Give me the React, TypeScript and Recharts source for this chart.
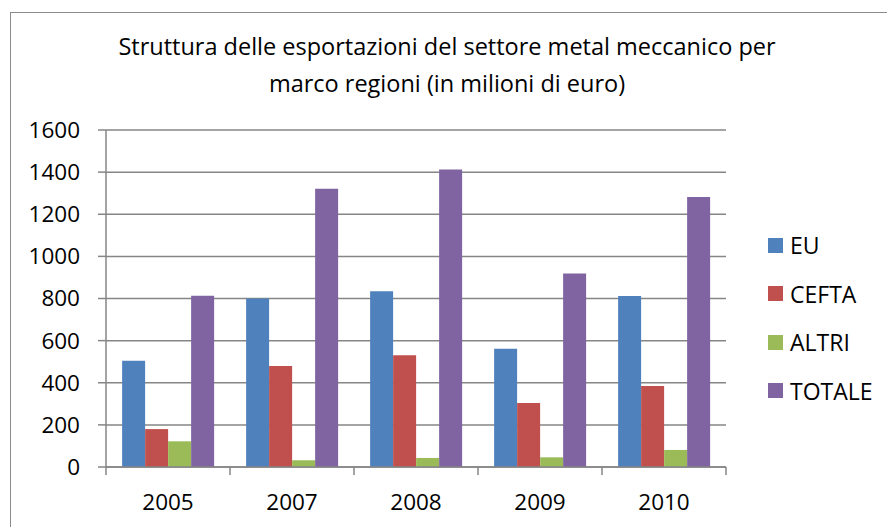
import React from "react";
import { BarChart, Bar, XAxis, YAxis, CartesianGrid } from "recharts";

const years = ["2005", "2007", "2008", "2009", "2010"];
const eu = [505, 800, 834, 562, 812];
const cefta = [180, 479, 530, 304, 384];
const altri = [122, 32, 43, 46, 81];
const totale = [813, 1321, 1413, 919, 1282];
const yTicks = [0, 200, 400, 600, 800, 1000, 1200, 1400, 1600];

const series = [
  { key: "EU", color: "#4F81BD" },
  { key: "CEFTA", color: "#C0504D" },
  { key: "ALTRI", color: "#9BBB59" },
  { key: "TOTALE", color: "#8064A2" }
];

const data = years.map((year, i) => ({
  year,
  EU: eu[i],
  CEFTA: cefta[i],
  ALTRI: altri[i],
  TOTALE: totale[i]
}));

const FONT = "'Open Sans', sans-serif";
const AXIS_COLOR = "#868686";

// Excel-style category ticks: marks sit on the category boundaries
const CategoryTick = (props: any) => {
  const { x, y, width, visibleTicksCount, index, payload } = props;
  const band = width / visibleTicksCount;
  const last = index === visibleTicksCount - 1;
  return (
    <g>
      <line x1={x - band / 2} x2={x - band / 2} y1={y} y2={y + 8} stroke={AXIS_COLOR} strokeWidth={1.5} />
      {last && (
        <line x1={x + band / 2} x2={x + band / 2} y1={y} y2={y + 8} stroke={AXIS_COLOR} strokeWidth={1.5} />
      )}
      <text x={x} y={y + 43} textAnchor="middle" fill="#000" fontSize={22.5} fontFamily={FONT}>
        {payload.value}
      </text>
    </g>
  );
};

const App = () => {
  return (
    <div style={{ position: "fixed", left: 0, top: 0, width: 887, height: 527, background: "#fff" }}>
      <div
        style={{
          position: "absolute",
          left: 10,
          top: 12,
          width: 884,
          height: 530,
          border: "1px solid #8c8c8c",
          boxSizing: "border-box"
        }}
      />
      <div
        style={{
          position: "absolute",
          left: 0,
          top: 28,
          width: 894,
          textAlign: "center",
          fontFamily: FONT,
          fontSize: 23.5,
          lineHeight: "37px",
          color: "#000"
        }}
      >
        Struttura delle esportazioni del settore metal meccanico per
        <br />
        marco regioni (in milioni di euro)
      </div>
      <div
        style={{
          position: "absolute",
          left: 768,
          top: 221,
          fontFamily: FONT,
          fontSize: 23,
          color: "#000"
        }}
      >
        {series.map((s) => (
          <div key={s.key} style={{ display: "flex", alignItems: "center", height: 48.5 }}>
            <span style={{ width: 15, height: 15, background: s.color, marginRight: 7, display: "inline-block" }} />
            <span>{s.key}</span>
          </div>
        ))}
      </div>
      <BarChart
        width={887}
        height={527}
        data={data}
        margin={{ top: 130, right: 161, bottom: 0, left: 0 }}
        barCategoryGap="13%"
        barGap={0}
        style={{ position: "absolute", left: 0, top: 0 }}
      >
        <CartesianGrid vertical={false} stroke={AXIS_COLOR} strokeWidth={1.5} />
        <XAxis
          dataKey="year"
          height={60}
          tickSize={0}
          tickMargin={0}
          tickLine={false}
          axisLine={{ stroke: AXIS_COLOR, strokeWidth: 1.5 }}
          tick={<CategoryTick />}
          interval={0}
        />
        <YAxis
          width={106}
          domain={[0, 1600]}
          ticks={yTicks}
          interval={0}
          tickSize={8}
          tickMargin={18}
          tickLine={{ stroke: AXIS_COLOR, strokeWidth: 1.5 }}
          axisLine={{ stroke: AXIS_COLOR, strokeWidth: 1.5 }}
          tick={{ fill: "#000", fontSize: 22.5, fontFamily: FONT }}
        />
        {series.map((s) => (
          <Bar key={s.key} dataKey={s.key} fill={s.color} isAnimationActive={false} />
        ))}
      </BarChart>
    </div>
  );
};

export default App;
